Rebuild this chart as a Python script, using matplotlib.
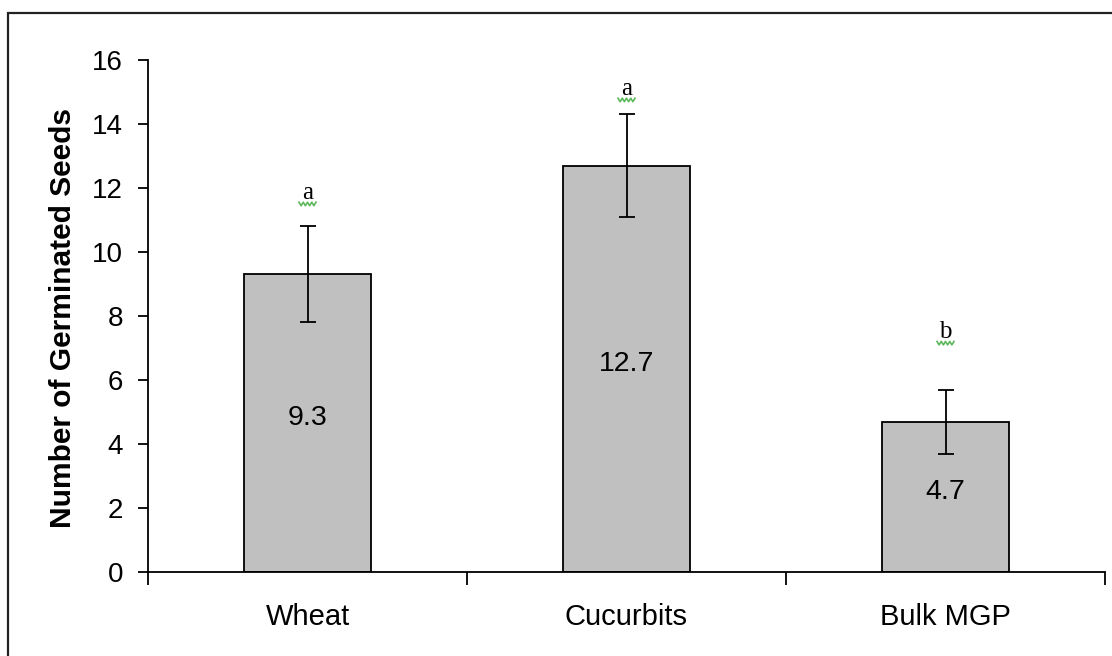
import numpy as np
import matplotlib
matplotlib.use("Agg")
import matplotlib.pyplot as plt
from matplotlib.patches import Rectangle
from matplotlib.transforms import ScaledTranslation

plt.rcParams['font.family'] = ['Liberation Sans', 'DejaVu Sans']

# data
categories = ['Wheat', 'Cucurbits', 'Bulk MGP']
means = [9.3, 12.7, 4.7]
errors = [1.5, 1.6, 1.0]
letters = ['a', 'a', 'b']
letter_y = [11.65, 14.9, 7.3]
y_ticks = [0, 2, 4, 6, 8, 10, 12, 14, 16]

fig = plt.figure(figsize=(11.12, 6.56), dpi=100)
ax = fig.add_axes([148 / 1112, 1 - 572 / 656, (1105 - 148) / 1112, (572 - 60) / 656])

x = np.arange(len(categories))
ax.bar(x, means, width=0.4, color='#c0c0c0', edgecolor='black', linewidth=1.3, zorder=2)
ax.errorbar(x, means, yerr=errors, fmt='none', ecolor='black', elinewidth=1.3,
            capsize=6, capthick=1.3, zorder=3)

# value labels inside the bars
for xi, v in zip(x, means):
    ax.text(xi, v / 2 + 0.15, f'{v}', ha='center', va='center', fontsize=20.5, zorder=4)

# significance letters with the green squiggle under them
sq_x = np.linspace(-0.085, 0.085, 9)
sq_y = np.where(np.arange(9) % 2 == 0, -0.03, -0.065)
for xi, lt, ly in zip(x, letters, letter_y):
    ax.text(xi, ly, lt, ha='center', va='baseline', fontsize=18,
            family=['Liberation Serif', 'DejaVu Serif'], zorder=4)
    tr = fig.dpi_scale_trans + ScaledTranslation(xi, ly, ax.transData)
    ax.plot(sq_x, sq_y, color='#5cb85c', lw=1.2, transform=tr, clip_on=False)

ax.set_xlim(-0.5, len(categories) - 0.5)
ax.set_ylim(0, 16)
ax.set_yticks(y_ticks)
ax.tick_params(axis='y', direction='out', length=7, width=1.3, pad=11, labelsize=20)

ax.set_xticks(np.arange(len(categories) + 1) - 0.5)
ax.set_xticklabels([])
ax.tick_params(axis='x', which='major', direction='out', length=9, width=1.3)
ax.set_xticks(x, minor=True)
ax.set_xticklabels(categories, minor=True)
ax.tick_params(axis='x', which='minor', length=0, pad=22, labelsize=21)

for s in ['top', 'right']:
    ax.spines[s].set_visible(False)
for s in ['left', 'bottom']:
    ax.spines[s].set_linewidth(1.3)

fig.text(63 / 1112, 1 - 318 / 656, 'Number of Germinated Seeds', rotation=90,
         ha='center', va='center', fontsize=21.5, fontweight='bold')

# outer frame
fig.patches.append(Rectangle((8 / 1112, -0.2), 2, 0.2 + 1 - 13 / 656,
                             transform=fig.transFigure, fill=False,
                             edgecolor='#222222', linewidth=1.6))

fig.savefig('out.png', dpi=100)
